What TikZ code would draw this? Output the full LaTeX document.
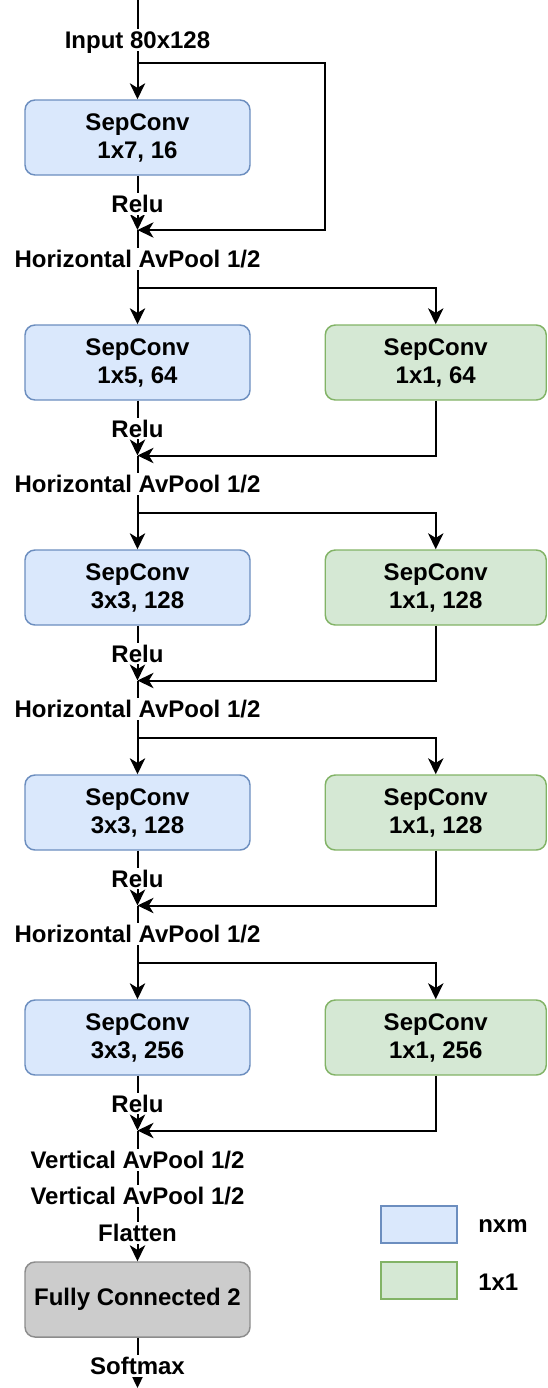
\documentclass[tikz,border=0pt]{standalone}
\usepackage{fontspec}
\setmainfont{Liberation Sans}
\usetikzlibrary{arrows.meta}
\definecolor{bfill}{HTML}{DAE8FC}
\definecolor{bdraw}{HTML}{6C8EBF}
\definecolor{gfill}{HTML}{D5E8D4}
\definecolor{gdraw}{HTML}{82B366}
\definecolor{cfill}{HTML}{CCCCCC}
\definecolor{cdraw}{HTML}{8C8C8C}
\begin{document}
\begin{tikzpicture}[x=0.75pt,y=-0.75pt,
  txt/.style={font=\fontsize{18}{21}\selectfont\bfseries},
  blk/.style={txt, rectangle, rounded corners=7.5pt, minimum height=56.25pt,
     align=center, line width=1.1pt, inner sep=0pt},
  bluebox/.style={blk, fill=bfill, draw=bdraw, minimum width=168.75pt},
  greenbox/.style={blk, fill=gfill, draw=gdraw, minimum width=165.75pt},
  graybox/.style={blk, fill=cfill, draw=cdraw, minimum width=168.75pt},
  lab/.style={txt, fill=white, inner sep=0.8pt, text height=13.8pt, text depth=0.9pt},
  arr/.style={line width=1.5pt, -{Stealth[length=12pt,width=11.5pt,inset=3.5pt]}},
  legbox/.style={rectangle, line width=1.1pt, minimum width=57pt, minimum height=27.75pt, inner sep=0pt}]
\useasboundingbox (0,0) rectangle (547,1388);

% stage 1
\node[bluebox] (b1) at (137.5,137.5) {SepConv\\1x7, 16};
\coordinate (top) at (137.5,0);
\coordinate (s1) at (137.5,63);
\coordinate (r1a) at (325,63);
\coordinate (r1b) at (325,230);
\coordinate (j1) at (137.5,230);
\draw[arr] (top) -- (b1.north);
\draw[arr] (s1) -- (r1a) -- (r1b) -- (j1);
\draw[arr] (b1.south) -- (j1);
\node[lab] (lin) at (137.5,40) {Input 80x128};
\node[lab] (relu1) at (137.5,204) {Relu};

% stages 2-5
\foreach \i/\ka/\kb in {2/{1x5, 64}/{1x1, 64},3/{3x3, 128}/{1x1, 128},4/{3x3, 128}/{1x1, 128},5/{3x3, 256}/{1x1, 256}} {
  \pgfmathsetmacro\T{325+(\i-2)*225}
  \pgfmathtruncatemacro\prev{\i-1}
  \node[bluebox] (b\i) at (137.5,\T+37.5) {SepConv\\\ka};
  \node[greenbox] (g\i) at (435.75,\T+37.5) {SepConv\\\kb};
  \coordinate (s\i) at (137.5,\T-37);
  \coordinate (j\i) at (137.5,\T+130.5);
  \draw[arr] (j\prev) -- (b\i.north);
  \draw[arr] (s\i) -| (g\i.north);
  \draw[arr] (g\i.south) |- (j\i);
  \draw[arr] (b\i.south) -- (j\i);
  \node[lab] (hp\i) at (137.5,\T-66) {Horizontal AvPool 1/2};
  \node[lab] (relu\i) at (137.5,\T+103.5) {Relu};
}

% final part
\node[graybox] (fc) at (137.5,1299.5) {Fully Connected 2};
\coordinate (bot) at (137.5,1388);
\draw[arr] (j5) -- (fc.north);
\draw[arr] (fc.south) -- (bot);
\node[lab] (v1) at (137.5,1160) {Vertical AvPool 1/2};
\node[lab] (v2) at (137.5,1196) {Vertical AvPool 1/2};
\node[lab] (fl) at (137.5,1233) {Flatten};
\node[lab] (sm) at (137.5,1366) {Softmax};

% legend
\node[legbox, fill=bfill, draw=bdraw] (lb) at (419,1224.5) {};
\node[legbox, fill=gfill, draw=gdraw] (lg) at (419,1280.5) {};
\node[txt, anchor=west, inner sep=0pt] (ln) at (478,1226) {nxm};
\node[txt, anchor=west, inner sep=0pt] (l1) at (478,1282) {1x1};
\end{tikzpicture}
\end{document}
